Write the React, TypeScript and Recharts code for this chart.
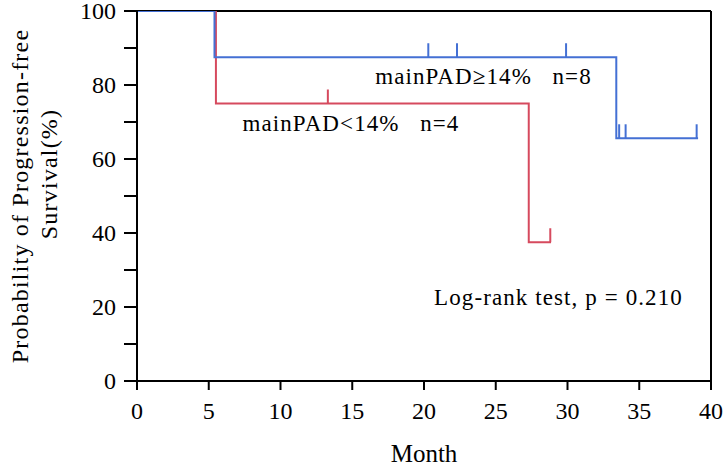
import { ComposedChart, Line, Scatter, XAxis, YAxis, ReferenceLine, ReferenceDot } from "recharts";

// survival steps (month, %)
const highTimes = [0, 5.4, 33.4, 39.1];
const highSurv = [100, 87.5, 65.6, 65.6];
const lowTimes = [0, 5.5, 27.3, 28.85];
const lowSurv = [100, 75, 37.5, 37.5];

// censored observations
const highCensorTimes = [20.3, 22.3, 29.9, 33.6, 34.05, 39.0];
const highCensorSurv = [87.5, 87.5, 87.5, 65.6, 65.6, 65.6];
const lowCensorTimes = [13.3, 28.8];
const lowCensorSurv = [75, 37.5];

const xTicks = [0, 5, 10, 15, 20, 25, 30, 35, 40];
const yTicks = [0, 10, 20, 30, 40, 50, 60, 70, 80, 90, 100];

const BLUE = "#4470d4";
const RED = "#d64a5e";
const FONT = "'Liberation Serif', 'Times New Roman', serif";

const zip = (ts: number[], ss: number[]) => ts.map((t, i) => ({ t, s: ss[i] }));

const highData = zip(highTimes, highSurv);
const lowData = zip(lowTimes, lowSurv);
const highCensor = zip(highCensorTimes, highCensorSurv);
const lowCensor = zip(lowCensorTimes, lowCensorSurv);

const censorMark = (color: string) => (p: any) => (
  <line x1={p.cx} y1={p.cy} x2={p.cx} y2={p.cy - 14} stroke={color} strokeWidth={2} />
);

const note = (txt: string) => (p: any) => (
  <text
    x={p.cx}
    y={p.cy}
    fill="#000"
    dominantBaseline="central"
    style={{ fontFamily: FONT, fontSize: 23, letterSpacing: 1.1 }}
  >
    {txt}
  </text>
);

const XTick = (p: any) => (
  <text x={p.x} y={p.y} dy="0.71em" textAnchor="middle" fill="#000" style={{ fontFamily: FONT, fontSize: 24 }}>
    {p.payload.value}
  </text>
);

const YTick = (p: any) =>
  p.payload.value % 20 === 0 ? (
    <text x={p.x} y={p.y} dy="0.35em" textAnchor="end" fill="#000" style={{ fontFamily: FONT, fontSize: 24 }}>
      {p.payload.value}
    </text>
  ) : (
    <g />
  );

const YLabel = (props: any) => {
  const vb = props.viewBox;
  const cy = vb.y + vb.height / 2;
  return (
    <text
      transform={`translate(0, ${cy}) rotate(-90)`}
      textAnchor="middle"
      fill="#000"
      style={{ fontFamily: FONT, fontSize: 24, letterSpacing: 1.2 }}
    >
      <tspan x={0} y={28}>Probability of Progression-free</tspan>
      <tspan x={22} y={57}>Survival(%)</tspan>
    </text>
  );
};

const XLabel = (props: any) => {
  const vb = props.viewBox;
  return (
    <text
      x={vb.x + vb.width / 2}
      y={462}
      textAnchor="middle"
      fill="#000"
      style={{ fontFamily: FONT, fontSize: 25 }}
    >
      Month
    </text>
  );
};

export default function App() {
  return (
    <div style={{ position: "absolute", left: 0, top: 0, background: "#fff", fontFamily: FONT }}>
      <ComposedChart
        width={726}
        height={467}
        margin={{ top: 11, right: 15, left: 0, bottom: 0 }}
        style={{ fontFamily: FONT }}
      >
        <XAxis
          type="number"
          dataKey="t"
          domain={[0, 40]}
          ticks={xTicks}
          allowDataOverflow
          stroke="#000"
          strokeWidth={2}
          tickSize={9}
          tickMargin={12}
          tick={<XTick />}
          height={86}
          label={<XLabel />}
        />
        <YAxis
          type="number"
          dataKey="s"
          domain={[0, 100]}
          ticks={yTicks}
          allowDataOverflow
          stroke="#000"
          strokeWidth={2}
          tickSize={13}
          tickMargin={8}
          width={137}
          tick={<YTick />}
          label={<YLabel />}
        />
        <ReferenceLine y={100} stroke="#000" strokeWidth={2} />
        <ReferenceLine x={40} stroke="#000" strokeWidth={2} />
        <Line data={lowData} dataKey="s" type="stepAfter" stroke={RED} strokeWidth={2} dot={false} isAnimationActive={false} />
        <Line data={highData} dataKey="s" type="stepAfter" stroke={BLUE} strokeWidth={2} dot={false} isAnimationActive={false} />
        <Scatter data={lowCensor} dataKey="s" shape={censorMark(RED)} isAnimationActive={false} />
        <Scatter data={highCensor} dataKey="s" shape={censorMark(BLUE)} isAnimationActive={false} />
        <ReferenceDot x={16.6} y={82.2} r={0} shape={note("mainPAD≥14%\u00a0\u00a0 n=8")} />
        <ReferenceDot x={7.35} y={69.5} r={0} shape={note("mainPAD<14%\u00a0\u00a0 n=4")} />
        <ReferenceDot x={20.7} y={22.7} r={0} shape={note("Log-rank test, p = 0.210")} />
      </ComposedChart>
    </div>
  );
}
